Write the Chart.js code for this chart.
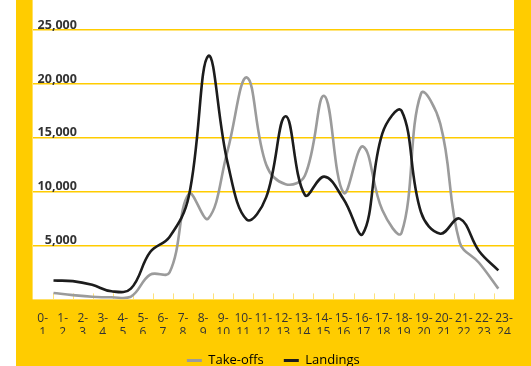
<!DOCTYPE html>
<html>
<head>
<meta charset="utf-8">
<script src="https://cdn.jsdelivr.net/npm/chart.js@4"></script>
<style>
  html, body { margin: 0; padding: 0; background: #fff; }
  #wrap { position: absolute; left: 16px; top: 0; width: 515px; height: 366px; }
</style>
</head>
<body>
<div id="wrap"><canvas id="movements"></canvas></div>
<script>
const hours = ['0-1', '1-2', '2-3', '3-4', '4-5', '5-6', '6-7', '7-8', '8-9', '9-10', '10-11', '11-12',
  '12-13', '13-14', '14-15', '15-16', '16-17', '17-18', '18-19', '19-20', '20-21', '21-22', '22-23', '23-24'];
const takeoffs = [600, 400, 250, 200, 250, 2300, 2500, 9800, 7500, 13800, 20600, 12500,
  10700, 11500, 18900, 9900, 14200, 8300, 6200, 19100, 16300, 5300, 3400, 1000];
const landings = [1750, 1700, 1350, 750, 1000, 4400, 5800, 9600, 22600, 12700, 7400, 9500,
  17000, 9700, 11400, 9300, 6100, 15400, 17500, 8100, 6100, 7500, 4500, 2700];
const yTicks = [5000, 10000, 15000, 20000, 25000];

const YELLOW = '#FFCC00';
const GREY = '#9b9b9b';
const BLACK = '#1c1c1c';
const TEXT = '#333333';

// yellow card with a white plot area, plus the small slot marks along the bottom
const panel = {
  id: 'panel',
  beforeDraw(chart) {
    const { ctx, chartArea: a } = chart;
    ctx.save();
    ctx.fillStyle = YELLOW;
    ctx.fillRect(0, 0, chart.width, chart.height);
    ctx.fillStyle = '#fff';
    ctx.fillRect(a.left, a.top, a.right - a.left, a.bottom - a.top);
    ctx.restore();
  },
  beforeDatasetsDraw(chart) {
    const { ctx, chartArea: a, scales: { x } } = chart;
    ctx.save();
    ctx.strokeStyle = '#FFE27A';
    ctx.lineWidth = 1;
    ctx.beginPath();
    for (let i = 1; i < hours.length; i++) {
      const px = Math.round(x.getPixelForValue(i - 0.5)) + 0.5;
      ctx.moveTo(px, a.bottom - 6);
      ctx.lineTo(px, a.bottom);
    }
    ctx.stroke();
    ctx.restore();
  }
};

const points = arr => arr.map((v, i) => ({ x: i, y: v }));

new Chart(document.getElementById('movements'), {
  type: 'line',
  data: {
    labels: hours.map(h => { const [a, b] = h.split('-'); return [a + '-', b]; }),
    datasets: [
      { label: 'Landings', data: points(landings), xAxisID: 'xd', borderColor: BLACK, backgroundColor: BLACK,
        borderWidth: 2.6, pointRadius: 0, tension: 0.4, order: 0 },
      { label: 'Take-offs', data: points(takeoffs), xAxisID: 'xd', borderColor: GREY, backgroundColor: GREY,
        borderWidth: 2.6, pointRadius: 0, tension: 0.4, order: 1 }
    ]
  },
  options: {
    responsive: true,
    maintainAspectRatio: false,
    animation: false,
    layout: { padding: { left: 16.6, right: 17, top: 0, bottom: -11 } },
    scales: {
      x: {
        type: 'category',
        offset: true,
        grid: { display: false, drawTicks: false },
        border: { display: false },
        ticks: {
          color: TEXT, padding: 12, autoSkip: false, maxRotation: 0,
          font: { family: 'Open Sans', size: 12, lineHeight: 1.15 }
        },
        afterFit: s => { s.height -= 17; s.paddingLeft = 0; s.paddingRight = 0; }
      },
      xd: { type: 'linear', display: false, min: -1.08, max: 23.81 },
      y: {
        min: 0,
        max: 27800,
        afterBuildTicks: s => { s.ticks = yTicks.map(v => ({ value: v })); },
        // labels sit inside the plot, so the axis takes no room of its own
        afterFit: s => { s.width = 0; s.paddingTop = 0; s.paddingBottom = 0; },
        grid: { color: YELLOW, lineWidth: 1.5, drawTicks: false },
        border: { display: false },
        ticks: {
          mirror: true, crossAlign: 'far', padding: 5, labelOffset: -5, color: TEXT,
          font: { family: 'Open Sans', size: 12.5, weight: 'bold' },
          callback: v => v.toLocaleString('en-US')
        }
      }
    },
    plugins: {
      tooltip: { enabled: false },
      legend: {
        position: 'bottom',
        labels: {
          color: TEXT, boxWidth: 15, boxHeight: 3, padding: 20,
          font: { family: 'Open Sans', size: 13 },
          generateLabels: () => [
            { text: 'Take-offs', fillStyle: GREY, strokeStyle: GREY, lineWidth: 0, datasetIndex: 1 },
            { text: 'Landings', fillStyle: BLACK, strokeStyle: BLACK, lineWidth: 0, datasetIndex: 0 }
          ]
        }
      }
    }
  },
  plugins: [panel]
});
</script>
</body>
</html>
